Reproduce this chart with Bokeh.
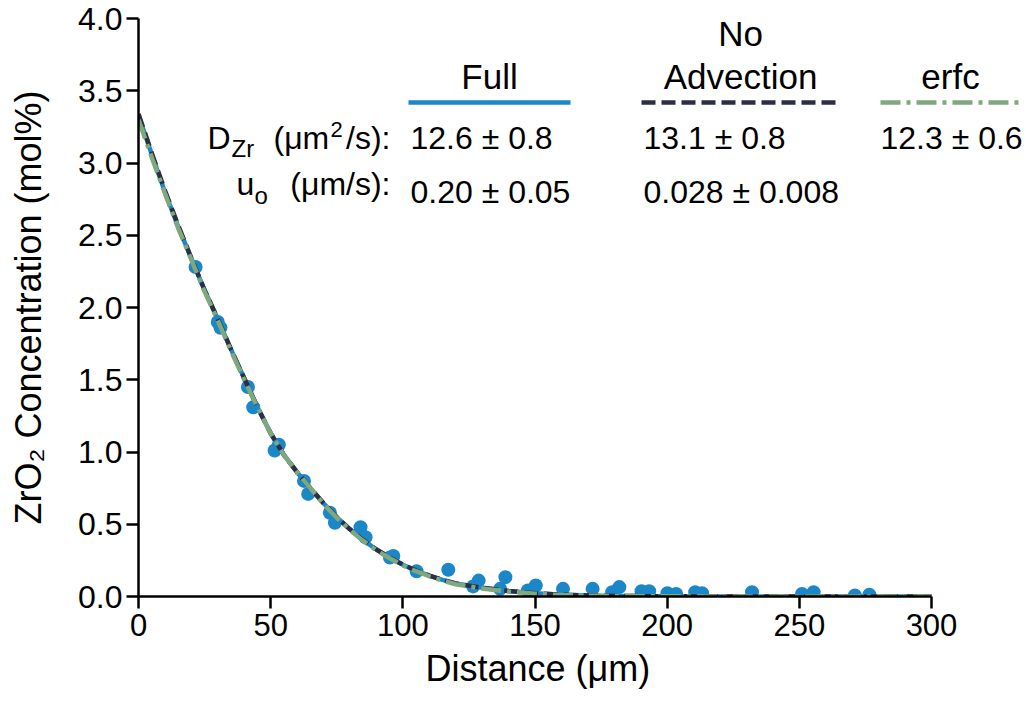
from bokeh.plotting import figure
from bokeh.models import Range1d, Label, FixedTicker, PrintfTickFormatter, Title
from bokeh.embed import file_html
from bokeh.resources import INLINE

dist = [21.6, 30.0, 31.0, 41.4, 43.4, 51.5, 53.1, 62.6, 64.2, 72.4, 74.3, 84.0,
        85.9, 95.1, 96.4, 105.2, 117.2, 126.6, 128.7, 136.8, 138.8, 147.3, 150.3,
        160.6, 171.8, 179.2, 181.9, 190.3, 193.2, 200.1, 203.4, 210.6, 213.2,
        232.1, 251.0, 255.4, 271.0, 276.5]
conc = [2.28, 1.90, 1.86, 1.45, 1.31, 1.01, 1.05, 0.80, 0.71, 0.58, 0.51, 0.48,
        0.41, 0.27, 0.28, 0.175, 0.185, 0.07, 0.11, 0.053, 0.134, 0.042, 0.076,
        0.053, 0.053, 0.03, 0.065, 0.037, 0.037, 0.023, 0.018, 0.03, 0.023,
        0.03, 0.018, 0.03, 0.007, 0.012]

# ---- fitted curves ----
fit_x = [0, 5, 10, 15, 20, 25, 30, 35, 40, 45, 50, 55, 60, 65, 70, 75, 80, 85, 90,
         95, 100, 105, 110, 115, 120, 130, 140, 150, 160, 175, 200, 250, 300]
fit_full = [3.33, 3.06, 2.80, 2.56, 2.34, 2.12, 1.92, 1.71, 1.51, 1.31, 1.13, 0.98,
            0.86, 0.75, 0.645, 0.55, 0.465, 0.39, 0.325, 0.27, 0.22, 0.18, 0.145,
            0.115, 0.09, 0.06, 0.038, 0.022, 0.012, 0.005, 0.001, 0.0, 0.0]
fit_noadv = [3.34, 3.07, 2.81, 2.57, 2.34, 2.12, 1.92, 1.71, 1.51, 1.31, 1.13, 0.98,
             0.86, 0.75, 0.645, 0.55, 0.465, 0.39, 0.325, 0.27, 0.22, 0.18, 0.145,
             0.115, 0.09, 0.06, 0.038, 0.022, 0.012, 0.005, 0.001, 0.0, 0.0]
fit_erfc = [3.30, 3.04, 2.79, 2.55, 2.33, 2.11, 1.91, 1.70, 1.50, 1.31, 1.13, 0.98,
            0.86, 0.75, 0.64, 0.545, 0.46, 0.385, 0.32, 0.265, 0.215, 0.175, 0.14,
            0.11, 0.085, 0.055, 0.034, 0.019, 0.01, 0.004, 0.001, 0.0, 0.0]

model_names = ["Full", "No\nAdvection", "erfc"]
d_zr = ["12.6 ± 0.8", "13.1 ± 0.8", "12.3 ± 0.6"]
u_o = ["0.20 ± 0.05", "0.028 ± 0.008"]

x_ticks = [0, 50, 100, 150, 200, 250, 300]
y_ticks = [0.0, 0.5, 1.0, 1.5, 2.0, 2.5, 3.0, 3.5, 4.0]

BLUE = "#1b87c8"
DARK = "#2c2e45"
GREEN = "#7fa87c"
FONT = "Liberation Sans"

W, H = 1026, 702
LEFT, RIGHT, TOP, BOTTOM = 138, 4, 18, 106
AX_PX = 793.0  # pixels for 0..300
x_end = 300.0 * (W - LEFT - RIGHT) / AX_PX

p = figure(width=W, height=H, output_backend="svg", toolbar_location=None,
           x_range=Range1d(0, x_end), y_range=Range1d(0, 4.0),
           min_border_left=LEFT, min_border_right=RIGHT,
           min_border_top=TOP, min_border_bottom=BOTTOM)
p.outline_line_color = None
p.grid.visible = False
p.background_fill_color = "white"
p.border_fill_color = "white"

for ax in (p.xaxis[0], p.yaxis[0]):
    ax.axis_line_width = 2.5
    ax.axis_line_color = "black"
    ax.major_tick_line_width = 2.5
    ax.major_tick_line_color = "black"
    ax.major_tick_out = 12
    ax.major_tick_in = 0
    ax.minor_tick_line_color = None
    ax.major_label_text_font = FONT
    ax.major_label_text_color = "black"
    ax.axis_label_text_font = FONT
    ax.axis_label_text_font_style = "normal"
    ax.axis_label_text_color = "black"

p.xaxis.ticker = FixedTicker(ticks=x_ticks)
p.xaxis.bounds = (0, 300)
p.xaxis.major_label_text_font_size = "31px"
p.xaxis.major_label_standoff = 5

p.yaxis.ticker = FixedTicker(ticks=y_ticks)
p.yaxis.formatter = PrintfTickFormatter(format="%.1f")
p.yaxis.major_label_text_font_size = "32px"
p.yaxis.major_label_standoff = 4
p.yaxis.axis_label = "ZrO₂ Concentration (mol%)"
p.yaxis.axis_label_text_font_size = "36px"
p.yaxis.axis_label_standoff = 26

# x-axis title, centred under the 0..300 part of the axis
p.add_layout(Title(text="Distance (μm)", align="left", offset=425 - LEFT,
                   text_font=FONT, text_font_size="36px", text_font_style="normal",
                   text_color="black", standoff=14), "below")

# data points
p.scatter(dist, conc, size=14, color=BLUE, line_color=None)

# fit lines
p.line(fit_x, fit_full, line_color=BLUE, line_width=4.5)
p.line(fit_x, fit_noadv, line_color=DARK, line_width=4.5, line_dash="14 6")
p.line(fit_x, fit_erfc, line_color=GREEN, line_width=4.5, line_dash="20 6 4 6")


def dx(px):
    return (px - LEFT) / AX_PX * 300.0


def dy(py):
    return (H - BOTTOM - py) / (H - BOTTOM - TOP) * 4.0


def lab(text, px, py, size=32, align="left"):
    # py is the wanted baseline in pixels; compensate renderer baseline offset
    p.add_layout(Label(x=dx(px), y=dy(py - 0.38 * size), text=text, text_font=FONT,
                       text_font_size=f"{size}px", text_align=align,
                       text_baseline="alphabetic", text_color="black"))


# legend header
HS = 35
lab(model_names[0], 489, 89, size=HS, align="center")
lab(model_names[1].split("\n")[0], 740, 46, size=HS, align="center")
lab(model_names[1].split("\n")[1], 740, 89, size=HS, align="center")
lab(model_names[2], 950, 89, size=HS, align="center")

ly = dy(102)
p.line([dx(408), dx(570)], [ly, ly], line_color=BLUE, line_width=4.5)
p.line([dx(641), dx(836)], [ly, ly], line_color=DARK, line_width=4.5, line_dash="14 6")
p.line([dx(880), dx(1020)], [ly, ly], line_color=GREEN, line_width=4.5, line_dash="20 6 4 6")

# parameter rows
lab("D", 207, 150)
lab("Zr", 231, 157, size=24)
lab("(μm", 273, 150)
lab("2", 330, 137, size=22)
lab("/s):", 390, 150, align="right")
lab("u", 236, 196)
lab("o", 254, 204, size=24)
lab("(μm/s):", 390, 196, align="right")

for txt, px in zip(d_zr, [410, 643, 880]):
    lab(txt, px, 150)
for txt, px in zip(u_o, [410, 643]):
    lab(txt, px, 204)

open("out.html", "w").write(file_html(p, INLINE))
